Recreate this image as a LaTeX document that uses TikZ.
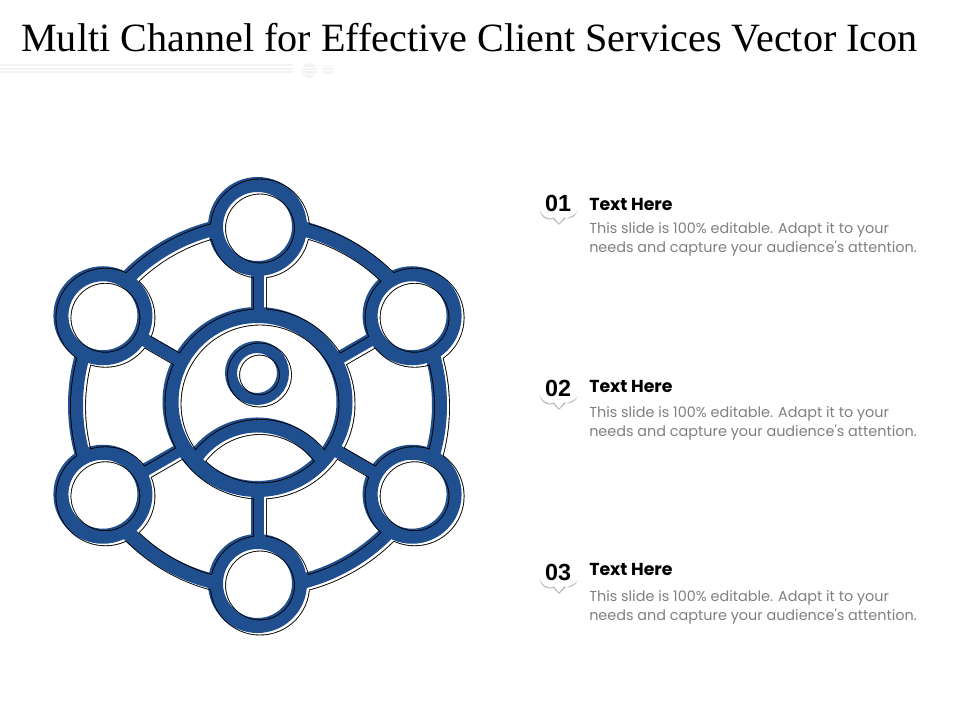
\documentclass[tikz,border=0pt]{standalone}
\usepackage{fontspec}
\setmainfont{Liberation Serif}
\newfontfamily\headfont{Liberation Sans}
\newfontfamily\bodyfont{Poppins}
\usepackage{tikz}
\usetikzlibrary{calc}
\definecolor{iconblue}{HTML}{1F4F8F}
\definecolor{bodygray}{HTML}{7F7F7F}
\definecolor{bracegray}{HTML}{C0C0C0}
\definecolor{rulegray}{HTML}{F3F3F3}
\tikzset{
  titletext/.style={anchor=west,inner sep=0pt,font=\fontsize{30.1pt}{32pt}\selectfont},
  numtext/.style={inner sep=0pt,font=\headfont\bfseries\fontsize{17.5pt}{20pt}\selectfont},
  headtext/.style={anchor=west,inner sep=0pt,font=\bodyfont\bfseries\fontsize{13pt}{15pt}\selectfont},
  desctext/.style={anchor=west,inner sep=0pt,text=bodygray,font=\bodyfont\fontsize{10.8pt}{12pt}\selectfont},
  rulebar/.style={rulegray,line width=1.5pt}
}
\newcommand{\iconcentres}{
  \coordinate (hc) at (257.5,315);
  \coordinate (bigc) at (257.5,318);
  \coordinate (headc) at (257,347);
  \coordinate (bodyc) at (257.5,219);
}
% all strokes of the icon: #1 colour, #2 extra width
\newcommand{\iconpaths}[2]{
  \foreach \a in {30,90,...,330} {
    \draw[#1,line width={(15+#2)*0.75pt}] (hc) ++(\a+13.6:182)
      arc[start angle=\a+13.6,end angle=\a+46.4,radius=182];
    \draw[#1,line width={(13+#2)*0.75pt}] (hc) ++(\a:88) -- ++(\a:49);
  }
  \draw[#1,line width={(15+#2)*0.75pt}] (bodyc) ++(32:76)
    arc[start angle=32,end angle=148,radius=76];
  \foreach \a in {30,90,...,330} {
    \draw[#1,line width={(15+#2)*0.75pt}] (hc) ++(\a:178.5) circle (42);
  }
  \draw[#1,line width={(16+#2)*0.75pt}] (bigc) circle (87);
  \draw[#1,line width={(12+#2)*0.75pt}] (headc) circle (26);
}
\begin{document}
\begin{tikzpicture}[x=0.75pt,y=0.75pt]
\useasboundingbox (0,0) rectangle (960,720);

\node[titletext] (title) at (21,682) {Multi Channel for Effective Client Services Vector Icon};

% faint rule under the title
\fill[rulegray] (309.5,649.5) circle (7.5);
\fill[rulegray] (328,649.5) ellipse (6 and 5);
\foreach \y in {654.5,651,647.5} {
  \draw[rulebar] (0,\y) -- (293,\y);
}
\foreach \y in {652.8,649.3,645.8} {
  \draw[white,line width=1pt] (300,\y) -- (336,\y);
}

\iconcentres
\iconpaths{iconblue}{0}
\begin{scope}[transparency group,blend mode=multiply]
  \begin{scope}[shift={(2.5,-2)}]
    \iconcentres
    \iconpaths{black}{0.9}
    \iconpaths{white}{-0.9}
  \end{scope}
\end{scope}

\foreach \i/\ny/\hy/\dy in {1/517/516/490,2/332/334/306,3/148/151/122} {
  \node[numtext] (num\i) at (558,\ny) {0\i};
  \node[headtext] (head\i) at (589,\hy) {Text Here};
  \node[desctext] (desca\i) at (589,\dy) {This slide is 100\% editable. Adapt it to your};
  \node[desctext] (descb\i) at (589,\dy-18.5) {needs and capture your audience's attention.};
  \fill[bracegray] ($(num\i)+(-18,-7)$) .. controls +(1,-5) and +(-7,-3) .. ($(num\i)+(-4,-14.5)$)
    -- ($(num\i)+(1,-20.5)$) -- ($(num\i)+(6,-14.5)$)
    .. controls +(7,-3) and +(-1,-5) .. ($(num\i)+(20,-7)$)
    .. controls +(0,-6) and +(-8,-2) .. ($(num\i)+(7,-16)$)
    -- ($(num\i)+(1,-22)$) -- ($(num\i)+(-5,-16)$)
    .. controls +(-8,-2) and +(0,-6) .. cycle;
}
\end{tikzpicture}
\end{document}
